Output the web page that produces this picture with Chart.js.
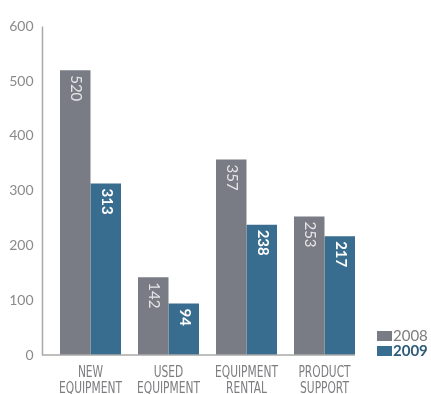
<!DOCTYPE html>
<html>
<head>
<meta charset="utf-8">
<script src="https://cdn.jsdelivr.net/npm/chart.js@4/dist/chart.umd.min.js"></script>
<style>
  html, body { margin: 0; padding: 0; background: #fff; }
  #wrap { width: 431px; height: 394px; position: relative; }
</style>
</head>
<body>
<div id="wrap"><canvas id="barChart"></canvas></div>
<script>
const CATEGORIES = [['NEW', 'EQUIPMENT'], ['USED', 'EQUIPMENT'], ['EQUIPMENT', 'RENTAL'], ['PRODUCT', 'SUPPORT']];
const SERIES_NAMES = ['2008', '2009'];
const VALUES_2008 = [520, 142, 357, 253];
const VALUES_2009 = [313, 94, 238, 217];
const Y_MIN = 0;
const Y_MAX = 600;
const Y_STEP = 100;

const GRAY = '#797c84';
const BLUE = '#386d8f';

// axis lines: left edge sits a little left of the first bar group,
// baseline stops at the right edge of the last bar
const axisLines = {
  id: 'axisLines',
  afterDatasetsDraw(chart) {
    const { ctx, chartArea, scales } = chart;
    const x0 = chartArea.left - 9;
    const yTop = scales.y.getPixelForValue(Y_MAX);
    const yBot = scales.y.getPixelForValue(Y_MIN);
    const lastMeta = chart.getDatasetMeta(chart.data.datasets.length - 1);
    const lastBar = lastMeta.data[lastMeta.data.length - 1];
    const xEnd = lastBar.x + lastBar.width / 2;
    ctx.save();
    ctx.strokeStyle = '#a9a9a9';
    ctx.lineWidth = 1.5;
    ctx.beginPath();
    ctx.moveTo(x0, yTop);
    ctx.lineTo(x0, yBot);
    ctx.lineTo(xEnd, yBot);
    ctx.stroke();
    ctx.restore();
  }
};

// category names in a tall condensed face, squeezed horizontally
const categoryLabels = {
  id: 'categoryLabels',
  afterDraw(chart) {
    const { ctx, chartArea, scales } = chart;
    ctx.save();
    ctx.font = '16px "DejaVu Sans Condensed", "Liberation Sans Narrow", sans-serif';
    ctx.fillStyle = '#7d7d80';
    ctx.textAlign = 'center';
    ctx.textBaseline = 'alphabetic';
    chart.data.labels.forEach((lines, i) => {
      const cx = scales.x.getPixelForTick(i);
      lines.forEach((line, j) => {
        ctx.save();
        ctx.translate(cx, chartArea.bottom + 22 + j * 16);
        ctx.scale(0.74, 1);
        ctx.fillText(line, 0, 0);
        ctx.restore();
      });
    });
    ctx.restore();
  }
};

// rotated value labels just under the top of each bar
const valueLabels = {
  id: 'valueLabels',
  afterDatasetsDraw(chart) {
    const { ctx } = chart;
    chart.data.datasets.forEach((ds, di) => {
      const meta = chart.getDatasetMeta(di);
      meta.data.forEach((bar, i) => {
        ctx.save();
        ctx.translate(bar.x + 1, bar.y + 5);
        ctx.rotate(Math.PI / 2);
        ctx.textAlign = 'left';
        ctx.textBaseline = 'middle';
        ctx.fillStyle = di === 0 ? '#e6e6e8' : '#ffffff';
        ctx.font = (di === 0 ? '' : 'bold ') + '15px Lato';
        ctx.fillText(String(ds.data[i]), 0, 0);
        ctx.restore();
      });
    });
  }
};

// small legend in the lower right corner
const cornerLegend = {
  id: 'cornerLegend',
  afterDraw(chart) {
    const { ctx } = chart;
    const x = 377, y = 331;
    chart.data.datasets.forEach((ds, i) => {
      const top = y + i * 15;
      ctx.save();
      ctx.fillStyle = ds.backgroundColor;
      ctx.fillRect(x, top, 15, 10);
      ctx.font = (i === 0 ? '' : 'bold ') + '15px Lato';
      ctx.fillStyle = i === 0 ? '#7e7e80' : '#2d5b7a';
      ctx.textBaseline = 'middle';
      ctx.textAlign = 'left';
      ctx.fillText(ds.label, x + 16, top + 5.5);
      ctx.restore();
    });
  }
};

new Chart(document.getElementById('barChart'), {
  type: 'bar',
  data: {
    labels: CATEGORIES,
    datasets: [
      { label: SERIES_NAMES[0], data: VALUES_2008, backgroundColor: GRAY },
      { label: SERIES_NAMES[1], data: VALUES_2009, backgroundColor: BLUE }
    ]
  },
  options: {
    responsive: true,
    maintainAspectRatio: false,
    animation: false,
    datasets: {
      bar: { categoryPercentage: 0.782, barPercentage: 1.0, borderWidth: 0 }
    },
    layout: { padding: { top: 23, right: 67.5, bottom: 0, left: 0 } },
    plugins: {
      legend: { display: false },
      tooltip: { enabled: false }
    },
    scales: {
      x: {
        grid: { display: false, drawTicks: false },
        border: { display: false },
        ticks: { display: false },
        afterFit(scale) { scale.height = 39; }
      },
      y: {
        min: Y_MIN,
        max: Y_MAX,
        grid: { display: false, drawTicks: false },
        border: { display: false },
        ticks: {
          stepSize: Y_STEP,
          color: '#8a8a8c',
          padding: 18,
          font: { family: 'Lato, sans-serif', size: 14 }
        },
        afterFit(scale) { scale.width = 51.5; }
      }
    }
  },
  plugins: [axisLines, categoryLabels, valueLabels, cornerLegend]
});
</script>
</body>
</html>
